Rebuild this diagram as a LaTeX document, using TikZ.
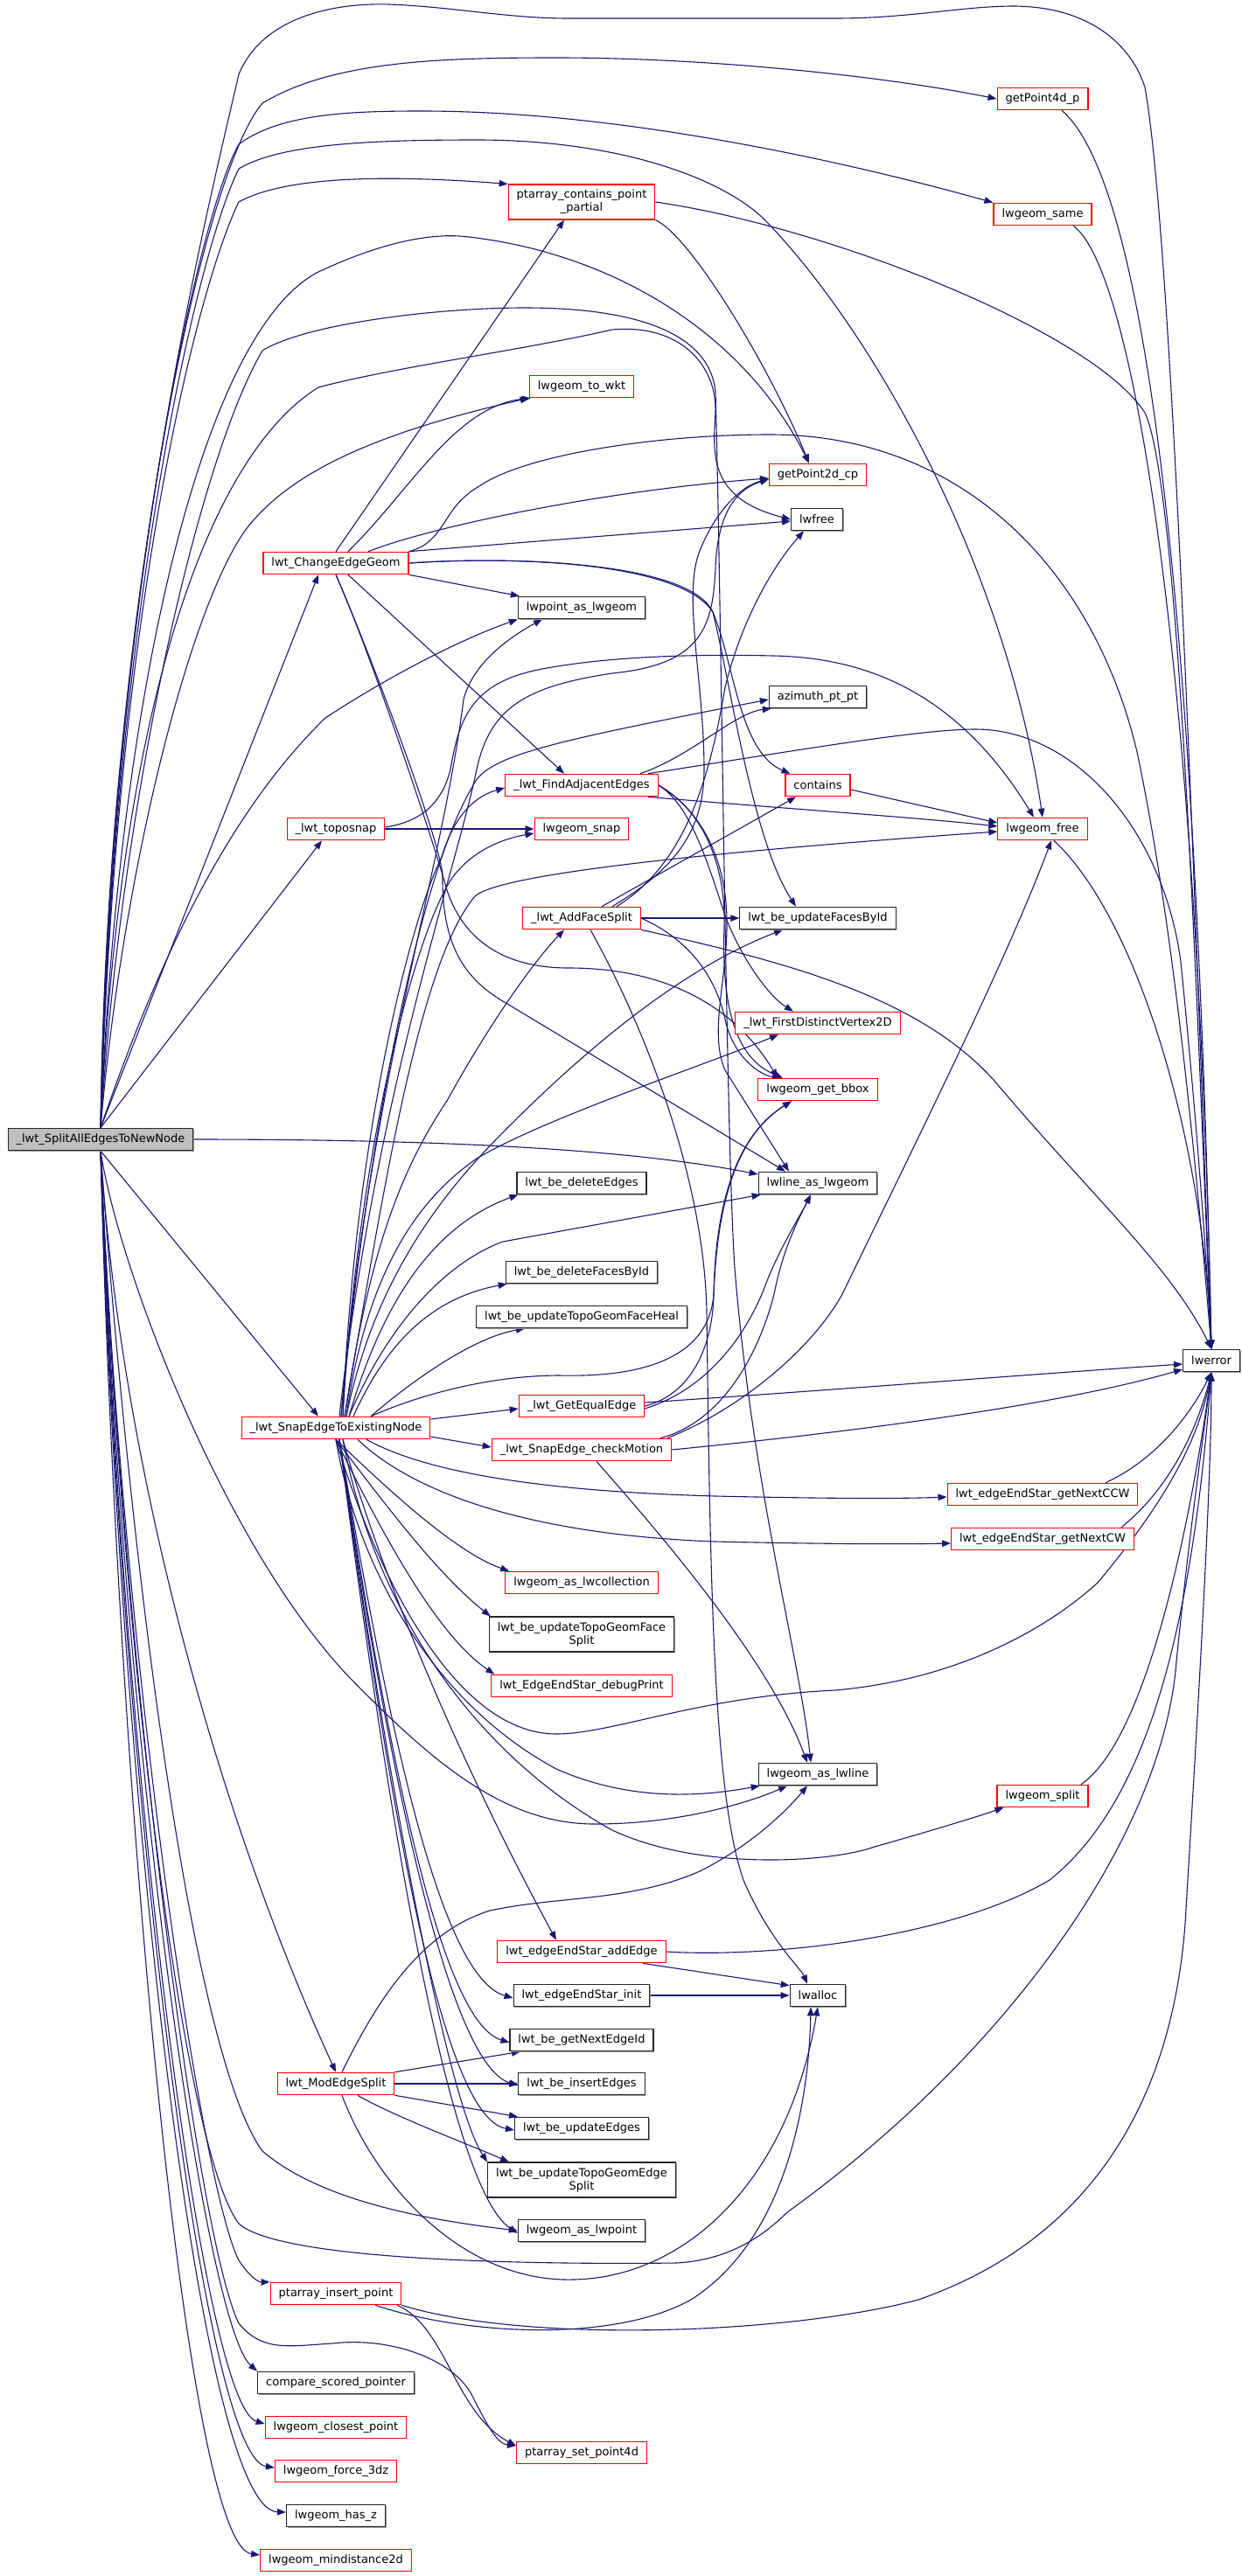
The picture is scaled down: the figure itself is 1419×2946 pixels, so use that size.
\documentclass[tikz,border=0pt]{standalone}
\usepackage{fontspec}
\setmainfont{DejaVu Sans}
\usetikzlibrary{arrows.meta,shadows,backgrounds}
\definecolor{callblue}{HTML}{191970}
\begin{document}
\begin{tikzpicture}[x=1pt,y=-1pt,
  fn/.style={draw,rectangle,line width=1.1pt,fill=white,inner xsep=9.5pt,inner ysep=0pt,minimum height=25.5pt,font=\fontsize{13}{15}\selectfont,align=center},
  redbox/.style={fn,draw=red},
  leafbox/.style={fn,draw=black!85,drop shadow={shadow xshift=1.3pt,shadow yshift=-1.3pt,fill=black!40,opacity=1}},
  rootbox/.style={leafbox,fill=gray!50},
  twoline/.style={minimum height=40pt},
  call/.style={draw=callblue,line width=1.1pt,-{Triangle[length=10pt,width=7.5pt]}}]
\useasboundingbox (0,0) rectangle (1419,2946);
% functions
\node[rootbox] (root) at (115,1303) {\_lwt\_SplitAllEdgesToNewNode};
\node[redbox] (p4d) at (1192,113) {getPoint4d\_p};
\node[redbox] (same) at (1192,245) {lwgeom\_same};
\node[redbox,twoline] (pcp) at (665,231) {ptarray\_contains\_point\\\_partial};
\node[redbox] (wkt) at (665,442) {lwgeom\_to\_wkt};
\node[redbox] (p2d) at (935,543) {getPoint2d\_cp};
\node[leafbox] (lwfree) at (934,594) {lwfree};
\node[redbox] (ceg) at (384,644) {lwt\_ChangeEdgeGeom};
\node[leafbox] (ptgeom) at (665,695) {lwpoint\_as\_lwgeom};
\node[leafbox] (azi) at (935,797) {azimuth\_pt\_pt};
\node[redbox] (fae) at (665,898) {\_lwt\_FindAdjacentEdges};
\node[redbox] (cont) at (935,898) {contains};
\node[redbox] (tsnap) at (384,948) {\_lwt\_toposnap};
\node[redbox] (snap) at (665,948) {lwgeom\_snap};
\node[redbox] (gfree) at (1192,948) {lwgeom\_free};
\node[redbox] (afs) at (665,1050) {\_lwt\_AddFaceSplit};
\node[leafbox] (ufb) at (935,1050) {lwt\_be\_updateFacesById};
\node[redbox] (fdv) at (935,1170) {\_lwt\_FirstDistinctVertex2D};
\node[redbox] (bbox) at (935,1246) {lwgeom\_get\_bbox};
\node[leafbox] (lnas) at (935,1353) {lwline\_as\_lwgeom};
\node[leafbox] (del) at (665,1353) {lwt\_be\_deleteEdges};
\node[leafbox] (delf) at (665,1455) {lwt\_be\_deleteFacesById};
\node[leafbox] (heal) at (665,1506) {lwt\_be\_updateTopoGeomFaceHeal};
\node[leafbox] (err) at (1385,1556) {lwerror};
\node[redbox] (gee) at (665,1608) {\_lwt\_GetEqualEdge};
\node[redbox] (sen) at (384,1633) {\_lwt\_SnapEdgeToExistingNode};
\node[redbox] (chk) at (665,1658) {\_lwt\_SnapEdge\_checkMotion};
\node[redbox] (ccw) at (1192,1709) {lwt\_edgeEndStar\_getNextCCW};
\node[redbox] (cw) at (1192,1760) {lwt\_edgeEndStar\_getNextCW};
\node[redbox] (coll) at (665,1810) {lwgeom\_as\_lwcollection};
\node[leafbox,twoline] (fsplit) at (665,1869) {lwt\_be\_updateTopoGeomFace\\Split};
\node[redbox] (dbg) at (665,1928) {lwt\_EdgeEndStar\_debugPrint};
\node[leafbox] (asln) at (935,2029) {lwgeom\_as\_lwline};
\node[redbox] (split) at (1192,2054) {lwgeom\_split};
\node[redbox] (add) at (665,2232) {lwt\_edgeEndStar\_addEdge};
\node[leafbox] (init) at (665,2282) {lwt\_edgeEndStar\_init};
\node[leafbox] (alloc) at (935,2282) {lwalloc};
\node[leafbox] (nid) at (665,2333) {lwt\_be\_getNextEdgeId};
\node[redbox] (mes) at (384,2383) {lwt\_ModEdgeSplit};
\node[leafbox] (ins) at (665,2383) {lwt\_be\_insertEdges};
\node[leafbox] (upd) at (665,2434) {lwt\_be\_updateEdges};
\node[leafbox,twoline] (esplit) at (665,2493) {lwt\_be\_updateTopoGeomEdge\\Split};
\node[leafbox] (aspt) at (665,2551) {lwgeom\_as\_lwpoint};
\node[redbox] (inspt) at (384,2623) {ptarray\_insert\_point};
\node[leafbox] (cmp) at (384,2725) {compare\_scored\_pointer};
\node[redbox] (closest) at (384,2776) {lwgeom\_closest\_point};
\node[redbox] (setp) at (665,2805) {ptarray\_set\_point4d};
\node[redbox] (f3dz) at (384,2826) {lwgeom\_force\_3dz};
\node[leafbox] (hasz) at (384,2877) {lwgeom\_has\_z};
\node[redbox] (mind) at (384,2928) {lwgeom\_mindistance2d};
\begin{scope}[on background layer]
% calls of _lwt_SplitAllEdgesToNewNode
\draw[call] (root.north) .. controls (122,700) and (235,250) .. (273,85) .. controls (300,20) and (380,3) .. (445,5) .. controls (520,8) and (580,21) .. (650,21) -- (955,21) .. controls (1040,21) and (1100,7) .. (1160,7) .. controls (1250,8) and (1295,55) .. (1309,100) .. controls (1345,300) and (1375,1300) .. (err.north);
\draw[call] (root.north) .. controls (125,700) and (230,200) .. (300,118) .. controls (380,70) and (500,66) .. (636,66) .. controls (800,66) and (1000,85) .. (p4d.west);
\draw[call] (root.north) .. controls (128,700) and (225,250) .. (273,165) .. controls (320,130) and (400,127) .. (482,127) .. controls (700,127) and (950,180) .. (same.north west);
\draw[call] (root.north) .. controls (130,700) and (225,290) .. (273,193) .. controls (320,165) and (420,160) .. (545,160) .. controls (700,160) and (820,200) .. (873,250) .. controls (1000,380) and (1150,650) .. (gfree.north);
\draw[call] (root.north) .. controls (132,700) and (225,330) .. (273,231) .. controls (320,205) and (420,198) .. (pcp.north west);
\draw[call] (root.north) .. controls (135,800) and (230,380) .. (364,311) .. controls (430,280) and (490,265) .. (536,271) .. controls (700,290) and (850,380) .. ([xshift=-10pt]p2d.north);
\draw[call] (root.north) .. controls (138,800) and (240,520) .. (364,443) .. controls (450,420) and (600,400) .. (700,377) .. controls (780,370) and (820,420) .. (818,472) .. controls (815,520) and (810,570) .. (lwfree.west);
\draw[call] (root.north) .. controls (140,900) and (230,520) .. (300,401) .. controls (350,370) and (500,352) .. (600,352) .. controls (700,352) and (810,370) .. (818,448) .. controls (825,700) and (830,1300) .. (840,1450) .. controls (860,1700) and (915,1900) .. ([xshift=-8pt]asln.north);
\draw[call] (root.north) .. controls (140,1000) and (215,700) .. (280,607) .. controls (330,540) and (430,495) .. (wkt.south west);
\draw[call] (root.north) -- ([xshift=-20pt]ceg.south);
\draw[call] (root.north) .. controls (180,1100) and (260,930) .. (372,821) .. controls (450,770) and (530,730) .. (ptgeom.south west);
\draw[call] (root.north) -- ([xshift=-16pt]tsnap.south);
\draw[call] (root.east) .. controls (450,1303) and (700,1310) .. ([yshift=10pt]lnas.west);
\draw[call] (root.south) -- ([xshift=-20pt]sen.north);
\draw[call] (root.south) .. controls (135,1450) and (260,1780) .. (409,1928) .. controls (500,2020) and (580,2086) .. (680,2086) .. controls (780,2086) and (860,2060) .. ([xshift=-35pt]asln.south);
\draw[call] (root.south) .. controls (140,1700) and (260,2100) .. (mes.north);
\draw[call] (root.south) .. controls (150,1800) and (220,2350) .. (300,2460) .. controls (370,2520) and (500,2540) .. (aspt.west);
\draw[call] (root.south) .. controls (140,1900) and (210,2460) .. (273,2543) .. controls (320,2585) and (600,2590) .. (773,2588) .. controls (830,2585) and (870,2560) .. (900,2530) .. controls (1150,2350) and (1330,2100) .. (1345,1900) .. controls (1360,1750) and (1375,1650) .. (err.south);
\draw[call] (root.south) .. controls (140,1900) and (230,2500) .. (273,2585) .. controls (285,2603) and (295,2610) .. (inspt.north west);
\draw[call] (root.south) .. controls (140,1900) and (225,2560) .. (273,2657) .. controls (300,2690) and (330,2683) .. (380,2680) .. controls (450,2672) and (520,2700) .. (540,2740) .. controls (560,2780) and (570,2795) .. ([yshift=8pt]setp.west);
\draw[call] (root.south) .. controls (140,2000) and (235,2660) .. (cmp.north west);
\draw[call] (root.south) .. controls (138,2000) and (230,2750) .. ([yshift=4pt]closest.west);
\draw[call] (root.south) .. controls (136,2000) and (230,2810) .. ([yshift=4pt]f3dz.west);
\draw[call] (root.south) .. controls (134,2000) and (225,2870) .. ([yshift=4pt]hasz.west);
\draw[call] (root.south) .. controls (132,2000) and (210,2910) .. ([yshift=6pt]mind.west);
% calls of lwt_ChangeEdgeGeom
\draw[call] (ceg.north) -- ([xshift=-20pt]pcp.south);
\draw[call] ([xshift=14pt]ceg.north) .. controls (470,560) and (520,465) .. ([xshift=2pt]wkt.south west);
\draw[call] ([xshift=37pt]ceg.north) .. controls (500,600) and (700,560) .. ([yshift=-4pt]p2d.west);
\draw[call] (ceg.north east) -- ([yshift=-2pt]lwfree.west);
\draw[call] (ceg.north east) .. controls (510,620) and (505,580) .. (548,556) .. controls (600,520) and (750,497) .. (880,497) .. controls (1100,497) and (1250,650) .. (1300,860) .. controls (1340,1050) and (1365,1300) .. (err.north);
\draw[call] (ceg.east) .. controls (600,635) and (780,645) .. (815,700) .. controls (840,760) and (845,860) .. ([xshift=6pt]cont.north west);
\draw[call] (ceg.east) .. controls (600,635) and (790,645) .. (815,700) .. controls (835,780) and (860,960) .. ([xshift=-25pt]ufb.north);
\draw[call] (ceg.south east) -- ([xshift=2pt]ptgeom.north west);
\draw[call] ([xshift=14pt]ceg.south) -- ([xshift=-20pt]fae.north);
\draw[call] (ceg.south) .. controls (420,740) and (500,950) .. (506,1000) .. controls (505,1080) and (530,1120) .. (580,1148) -- ([xshift=-37pt]lnas.north);
\draw[call] (ceg.south) .. controls (425,750) and (495,960) .. (511,1018) .. controls (525,1060) and (560,1107) .. (650,1107) .. controls (760,1107) and (840,1150) .. ([xshift=-46pt]bbox.north);
% calls reaching lwerror from the top row
\draw[call] (pcp.south east) .. controls (790,270) and (880,420) .. ([xshift=-10pt]p2d.north);
\draw[call] (pcp.east) .. controls (950,260) and (1250,380) .. (1309,472) .. controls (1350,560) and (1370,1200) .. (err.north);
\draw[call] ([xshift=22pt]p4d.south) .. controls (1300,200) and (1365,600) .. (err.north);
\draw[call] ([xshift=35pt]same.south) .. controls (1300,310) and (1370,800) .. (err.north);
\draw[call] ([xshift=13pt]gfree.south) .. controls (1300,1050) and (1375,1300) .. (err.north);
% calls of _lwt_FindAdjacentEdges
\draw[call] ([xshift=67pt]fae.north) .. controls (790,865) and (840,815) .. ([xshift=3pt]azi.south west);
\draw[call] ([xshift=76pt]fae.north) .. controls (900,860) and (1050,834) .. (1115,834) .. controls (1230,834) and (1330,950) .. (1350,1100) .. controls (1370,1300) and (1380,1450) .. (err.north);
\draw[call] ([xshift=76pt]fae.south) .. controls (900,925) and (1050,935) .. ([yshift=3pt]gfree.west);
\draw[call] (fae.east) .. controls (790,920) and (810,990) .. (830,1050) .. controls (850,1100) and (880,1140) .. ([xshift=-28pt]fdv.north);
\draw[call] (fae.east) .. controls (810,930) and (830,1000) .. (828,1060) .. controls (825,1150) and (840,1210) .. ([xshift=-40pt]bbox.north);
\draw[call] (fae.east) .. controls (800,925) and (830,980) .. (831,1052) .. controls (832,1120) and (810,1180) .. (829,1224) -- ([xshift=-33pt]lnas.north);
\draw[call] ([yshift=-5pt]cont.east) -- ([yshift=7pt]gfree.west);
% calls of _lwt_toposnap
\draw[call] (tsnap.east) -- (snap.west);
\draw[call] ([yshift=2pt]tsnap.east) .. controls (480,940) and (505,920) .. (515,880) .. controls (525,820) and (540,780) .. (620,765) .. controls (700,750) and (800,748) .. (884,750) .. controls (1000,752) and (1100,800) .. ([xshift=-10pt]gfree.north);
% calls of _lwt_AddFaceSplit
\draw[call] (afs.east) -- (ufb.west);
\draw[call] ([xshift=23pt]afs.north) -- ([xshift=-25pt]cont.south);
\draw[call] ([xshift=35pt]afs.north) .. controls (760,1000) and (805,960) .. (805,880) .. controls (805,780) and (780,680) .. (800,630) .. controls (820,580) and (850,555) .. ([yshift=-5pt]p2d.west);
\draw[call] ([xshift=40pt]afs.north) .. controls (780,990) and (810,900) .. (829,786) .. controls (850,700) and (890,640) .. ([xshift=-15pt]lwfree.south);
\draw[call] (afs.south east) .. controls (900,1100) and (1050,1140) .. (1136,1235) .. controls (1250,1370) and (1340,1450) .. (err.north);
\draw[call] (afs.east) .. controls (790,1075) and (820,1120) .. (830,1170) .. controls (840,1210) and (870,1230) .. ([xshift=-42pt]bbox.north);
\draw[call] ([xshift=10pt]afs.south) .. controls (740,1180) and (805,1350) .. (808,1500) .. controls (812,1800) and (815,2050) .. (850,2150) .. controls (880,2220) and (915,2250) .. ([xshift=-12pt]alloc.north);
% calls of _lwt_GetEqualEdge and _lwt_SnapEdge_checkMotion
\draw[call] ([yshift=4pt]gee.east) .. controls (950,1590) and (1200,1570) .. ([yshift=-4pt]err.west);
\draw[call] (gee.east) .. controls (790,1595) and (815,1540) .. (816,1480) .. controls (818,1380) and (840,1300) .. ([xshift=-30pt]bbox.south);
\draw[call] ([yshift=-3pt]gee.east) .. controls (820,1585) and (860,1510) .. (875,1470) .. controls (890,1430) and (915,1390) .. ([xshift=-8pt]lnas.south);
\draw[call] (chk.east) .. controls (950,1640) and (1200,1610) .. ([yshift=-10pt]err.west);
\draw[call] ([xshift=90pt]chk.north) .. controls (830,1625) and (870,1540) .. (885,1480) .. controls (895,1430) and (910,1400) .. ([xshift=-8pt]lnas.south);
\draw[call] ([xshift=98pt]chk.north) .. controls (850,1610) and (930,1540) .. (963,1480) .. controls (1050,1300) and (1150,1100) .. ([xshift=10pt]gfree.south);
\draw[call] ([xshift=17pt]chk.south) .. controls (760,1760) and (880,1900) .. ([xshift=-12pt]asln.north);
% calls of _lwt_SnapEdgeToExistingNode, upwards
\draw[call] ([xshift=40pt]sen.north) .. controls (470,1580) and (540,1530) .. ([xshift=-65pt]heal.south);
\draw[call] ([xshift=40pt]sen.north) .. controls (480,1595) and (560,1573) .. (640,1573) .. controls (720,1575) and (810,1560) .. (816,1480) .. controls (820,1380) and (840,1300) .. ([xshift=-30pt]bbox.south);
\draw[call] ([xshift=20pt]sen.north) .. controls (440,1540) and (490,1485) .. ([xshift=2pt]delf.south west);
\draw[call] ([xshift=15pt]sen.north) .. controls (440,1480) and (500,1400) .. ([xshift=2pt]del.south west);
\draw[call] ([xshift=15pt]sen.north) .. controls (450,1500) and (520,1440) .. (575,1420) -- ([xshift=3pt]lnas.south west);
\draw[call] ([xshift=12pt]sen.north) .. controls (430,1450) and (520,1350) .. (580,1290) .. controls (700,1170) and (800,1100) .. ([xshift=-40pt]ufb.south);
\draw[call] ([xshift=12pt]sen.north) .. controls (420,1450) and (480,1370) .. (545,1325) .. controls (620,1280) and (800,1220) .. ([xshift=-45pt]fdv.south);
\draw[call] ([xshift=10pt]sen.north) .. controls (420,1450) and (450,1350) .. (511,1259) .. controls (560,1170) and (610,1100) .. ([xshift=-20pt]afs.south);
\draw[call] ([xshift=10pt]sen.north) .. controls (440,1350) and (480,1100) .. (543,1025) .. controls (570,1000) and (800,975) .. ([yshift=-3pt]gfree.west);
\draw[call] ([xshift=8pt]sen.north) .. controls (410,1300) and (480,1050) .. (520,1000) .. controls (540,975) and (570,960) .. ([yshift=-5pt]snap.west);
\draw[call] ([xshift=8pt]sen.north) .. controls (405,1300) and (470,1050) .. (505,980) .. controls (520,930) and (545,910) .. ([yshift=-3pt]fae.west);
\draw[call] ([xshift=6pt]sen.north) .. controls (420,1300) and (480,1000) .. (540,900) .. controls (555,865) and (620,850) .. ([yshift=-3pt]azi.west);
\draw[call] ([xshift=6pt]sen.north) .. controls (420,1250) and (505,1000) .. (530,800) .. controls (540,760) and (580,730) .. ([xshift=-45pt]ptgeom.south);
\draw[call] ([xshift=4pt]sen.north) .. controls (430,1250) and (520,1000) .. (545,880) .. controls (560,810) and (600,785) .. (700,770) .. controls (800,760) and (815,720) .. (818,650) .. controls (820,590) and (840,560) .. ([yshift=-5pt]p2d.west);
% calls of _lwt_SnapEdgeToExistingNode, sideways and downwards
\draw[call] ([yshift=10pt]sen.east) -- ([yshift=-3pt]gee.west);
\draw[call] ([yshift=-10pt]sen.east) -- ([yshift=3pt]chk.west);
\draw[call] ([xshift=35pt]sen.south) .. controls (480,1680) and (600,1705) .. (818,1711) .. controls (950,1714) and (1030,1714) .. ([yshift=-3pt]ccw.west);
\draw[call] ([xshift=25pt]sen.south) .. controls (470,1705) and (600,1755) .. (818,1763) .. controls (950,1766) and (1030,1766) .. ([yshift=-5pt]cw.west);
\draw[call] (sen.south) .. controls (440,1700) and (520,1775) .. ([xshift=5pt]coll.north west);
\draw[call] (sen.south) .. controls (440,1720) and (500,1800) .. ([xshift=2pt]fsplit.north west);
\draw[call] (sen.south) .. controls (440,1760) and (500,1870) .. ([xshift=4pt]dbg.north west);
\draw[call] (sen.south) .. controls (430,1800) and (520,1983) .. (636,1983) .. controls (700,1983) and (800,1940) .. (955,1933) .. controls (1100,1920) and (1200,1860) .. (1255,1810) .. controls (1330,1720) and (1370,1650) .. (err.south);
\draw[call] (sen.south) .. controls (410,1800) and (500,1950) .. (636,2023) .. controls (720,2060) and (800,2055) .. ([xshift=2pt]asln.south west);
\draw[call] ([xshift=8pt]sen.south) .. controls (430,1850) and (550,2010) .. (700,2093) .. controls (800,2140) and (950,2130) .. (1000,2112) .. controls (1060,2095) and (1110,2080) .. ([xshift=8pt]split.south west);
\draw[call] ([xshift=8pt]sen.south) .. controls (450,1850) and (560,2080) .. ([xshift=-29pt]add.north);
\draw[call] ([xshift=4pt]sen.south) .. controls (440,1950) and (500,2260) .. ([yshift=-3pt]init.west);
\draw[call] ([xshift=4pt]sen.south) .. controls (440,1980) and (500,2310) .. ([yshift=-3pt]nid.west);
\draw[call] ([xshift=4pt]sen.south) .. controls (440,2000) and (510,2360) .. ([yshift=-2pt]ins.west);
\draw[call] ([xshift=4pt]sen.south) .. controls (440,2020) and (500,2420) .. ([yshift=-2pt]upd.west);
\draw[call] ([xshift=4pt]sen.south) .. controls (440,2020) and (510,2400) .. (esplit.north west);
\draw[call] ([xshift=4pt]sen.south) .. controls (440,2050) and (510,2500) .. ([yshift=-3pt]aspt.west);
% calls of lwt_ModEdgeSplit
\draw[call] (mes.north east) -- ([xshift=-70pt]nid.south);
\draw[call] (mes.east) -- (ins.west);
\draw[call] (mes.south east) -- ([xshift=4pt]upd.north west);
\draw[call] ([xshift=25pt]mes.south) .. controls (450,2420) and (530,2450) .. ([xshift=-83pt]esplit.north);
\draw[call] ([xshift=7pt]mes.south) .. controls (430,2500) and (530,2610) .. (655,2607) .. controls (780,2605) and (900,2500) .. (alloc.south);
\draw[call] ([xshift=7pt]mes.north) .. controls (430,2290) and (480,2210) .. (560,2185) .. controls (640,2168) and (720,2175) .. (800,2140) .. controls (860,2110) and (900,2070) .. ([xshift=-12pt]asln.south);
% calls of ptarray_insert_point
\draw[call] ([xshift=70pt]inspt.south) .. controls (510,2660) and (520,2760) .. ([yshift=8pt]setp.west);
\draw[call] ([xshift=45pt]inspt.south) .. controls (530,2670) and (700,2680) .. (790,2630) .. controls (900,2560) and (925,2400) .. ([xshift=-8pt]alloc.south);
\draw[call] (inspt.south east) .. controls (600,2680) and (900,2670) .. (1050,2630) .. controls (1250,2560) and (1340,2400) .. (1355,2200) .. controls (1370,1950) and (1385,1700) .. (err.south);
% remaining calls
\draw[call] ([xshift=70pt]add.south) -- ([yshift=-2pt]alloc.north west);
\draw[call] (add.east) .. controls (900,2240) and (1100,2210) .. (1200,2150) .. controls (1300,2070) and (1360,1900) .. (err.south);
\draw[call] (init.east) -- (alloc.west);
\draw[call] ([xshift=72pt]ccw.north) .. controls (1320,1670) and (1360,1620) .. (err.south);
\draw[call] ([xshift=90pt]cw.north) .. controls (1340,1700) and (1370,1630) .. (err.south);
\draw[call] ([xshift=44pt]split.north) .. controls (1310,1990) and (1360,1750) .. (err.south);
\end{scope}
\end{tikzpicture}
\end{document}
